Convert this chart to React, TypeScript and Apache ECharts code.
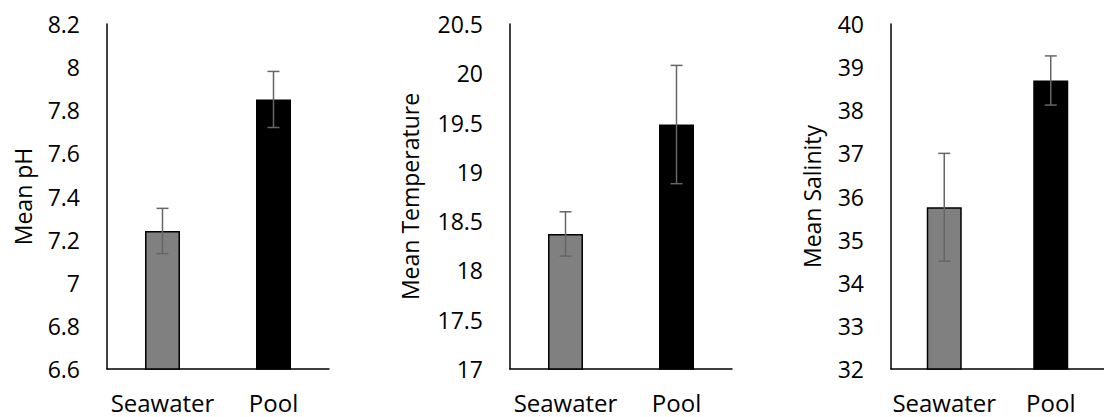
import React, { useEffect, useRef } from "react";
import * as echarts from "echarts";

const categories = ["Seawater", "Pool"];

const phMeans = [7.24, 7.85];
const phErrors = [0.105, 0.13];

const tempMeans = [18.37, 19.48];
const tempErrors = [0.225, 0.6];

const salMeans = [35.75, 38.69];
const salErrors = [1.25, 0.57];

const panels = [
  { name: "Mean pH", means: phMeans, errors: phErrors, min: 6.6, max: 8.2, interval: 0.2, left: 107, nameGap: 73 },
  { name: "Mean Temperature", means: tempMeans, errors: tempErrors, min: 17, max: 20.5, interval: 0.5, left: 510, nameGap: 89 },
  { name: "Mean Salinity", means: salMeans, errors: salErrors, min: 32, max: 40, interval: 1, left: 891, nameGap: 68 },
];

const barColors = ["#808080", "#000000"];
const FONT = "Open Sans";

export default function App() {
  const ref = useRef<HTMLDivElement>(null);
  useEffect(() => {
    if (!ref.current) return;
    const chart = echarts.init(ref.current, undefined, { renderer: "svg" });
    const grid: any[] = [];
    const xAxis: any[] = [];
    const yAxis: any[] = [];
    const series: any[] = [];
    panels.forEach((p, i) => {
      grid.push({ left: p.left, width: 222, top: 24, height: 345, containLabel: false });
      xAxis.push({
        type: "category",
        gridIndex: i,
        data: categories,
        axisLine: { lineStyle: { color: "#000", width: 1.5 } },
        axisTick: { show: false },
        axisLabel: { color: "#000", fontSize: 24, fontFamily: FONT, margin: 21, interval: 0 },
      });
      yAxis.push({
        type: "value",
        gridIndex: i,
        min: p.min,
        max: p.max,
        interval: p.interval,
        name: p.name,
        nameLocation: "middle",
        nameGap: p.nameGap,
        nameTextStyle: { color: "#000", fontSize: 23, fontFamily: FONT },
        axisLine: { show: true, lineStyle: { color: "#000", width: 1.5 } },
        axisTick: { show: false },
        splitLine: { show: false },
        axisLabel: { color: "#000", fontSize: 23, fontFamily: FONT, margin: 27 },
      });
      series.push({
        type: "bar",
        xAxisIndex: i,
        yAxisIndex: i,
        barWidth: 35,
        data: p.means.map((v, j) => ({
          value: v,
          itemStyle: { color: barColors[j], borderColor: "#000", borderWidth: 1.5 },
        })),
        z: 2,
      });
      series.push({
        type: "custom",
        xAxisIndex: i,
        yAxisIndex: i,
        z: 5,
        data: p.means.map((v, j) => [j, v - p.errors[j], v + p.errors[j]]),
        encode: { x: 0, y: [1, 2] },
        renderItem: (params: any, api: any) => {
          const x = api.value(0);
          const top = api.coord([x, api.value(2)]);
          const bot = api.coord([x, api.value(1)]);
          const hw = 6;
          const style = { stroke: "#666666", lineWidth: 1.5 };
          return {
            type: "group",
            children: [
              { type: "line", shape: { x1: top[0], y1: top[1], x2: bot[0], y2: bot[1] }, style },
              { type: "line", shape: { x1: top[0] - hw, y1: top[1], x2: top[0] + hw, y2: top[1] }, style },
              { type: "line", shape: { x1: bot[0] - hw, y1: bot[1], x2: bot[0] + hw, y2: bot[1] }, style },
            ],
          };
        },
      });
    });
    chart.setOption({ animation: false, backgroundColor: "#fff", grid, xAxis, yAxis, series });
    return () => chart.dispose();
  }, []);
  return (
    <div
      ref={ref}
      style={{ position: "absolute", left: 0, top: 0, width: 1104, height: 417 }}
    />
  );
}
